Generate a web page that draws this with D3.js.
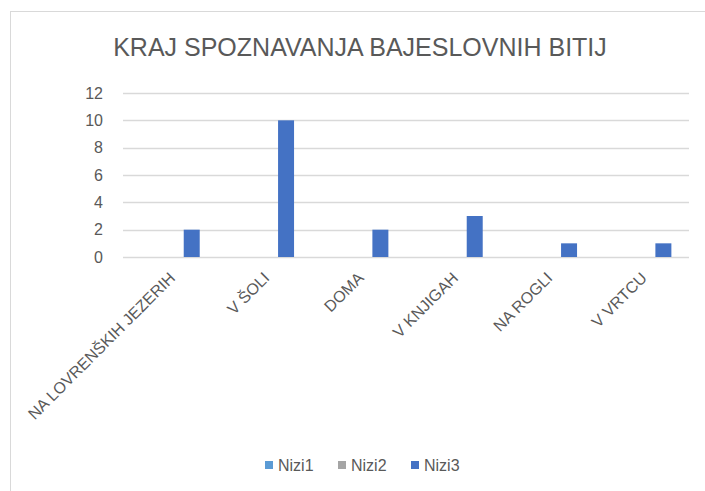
<!DOCTYPE html>
<html>
<head>
<meta charset="utf-8">
<script src="https://cdn.jsdelivr.net/npm/d3@7"></script>
<style>
  body { margin: 0; background: #fff; }
  text { font-family: "Liberation Sans", Arial, sans-serif; }
</style>
</head>
<body>
<div id="chart"></div>
<script>
const categories = ["NA LOVRENŠKIH JEZERIH", "V ŠOLI", "DOMA", "V KNJIGAH", "NA ROGLI", "V VRTCU"];
const seriesNames = ["Nizi1", "Nizi2", "Nizi3"];
const nizi1 = [0, 0, 0, 0, 0, 0];
const nizi2 = [0, 0, 0, 0, 0, 0];
const nizi3 = [2, 10, 2, 3, 1, 1];
const yTicks = [0, 2, 4, 6, 8, 10, 12];
const title = "KRAJ SPOZNAVANJA BAJESLOVNIH BITIJ";

const W = 705, H = 491;
const margin = { top: 93, right: 16, bottom: 234, left: 123 };
const width = W - margin.left - margin.right;
const height = H - margin.top - margin.bottom;

const colors = ["#5B9BD5", "#A5A5A5", "#4472C4"];
const values = [nizi1, nizi2, nizi3];
const textColor = "#595959";

const svg = d3.select("#chart").append("svg")
  .attr("width", W)
  .attr("height", H);

// chart frame
svg.append("rect")
  .attr("x", 10.5).attr("y", 11.5)
  .attr("width", W + 10).attr("height", H + 10)
  .attr("fill", "none")
  .attr("stroke", "#d9d9d9");

svg.append("text")
  .attr("x", 360).attr("y", 56)
  .attr("text-anchor", "middle")
  .style("font-size", "25px")
  .style("fill", textColor)
  .text(title);

const g = svg.append("g")
  .attr("transform", "translate(" + margin.left + "," + margin.top + ")");

const x0 = d3.scaleBand().domain(categories).range([0, width]);
const x1 = d3.scaleBand().domain(seriesNames)
  .range([0, x0.bandwidth()])
  .paddingOuter(1.45)
  .align(0.62);
const y = d3.scaleLinear().domain([0, 12]).range([height, 0]);

// gridlines
g.selectAll(".grid")
  .data(yTicks)
  .enter().append("line")
  .attr("x1", 0).attr("x2", width)
  .attr("y1", d => Math.round(y(d)) + 0.5)
  .attr("y2", d => Math.round(y(d)) + 0.5)
  .attr("stroke", "#d9d9d9")
  .attr("stroke-width", 1.5);

const yAxis = g.append("g")
  .call(d3.axisLeft(y).tickValues(yTicks).tickSize(0).tickPadding(20));
yAxis.select(".domain").remove();
yAxis.selectAll("text")
  .style("font-size", "16px")
  .style("font-family", "Liberation Sans, Arial, sans-serif")
  .style("fill", textColor);

// bars
seriesNames.forEach((s, i) => {
  g.selectAll(".bar-" + s)
    .data(values[i])
    .enter().append("rect")
    .attr("class", "bar-" + s)
    .attr("x", (d, j) => x0(categories[j]) + x1(s))
    .attr("y", d => y(d))
    .attr("width", x1.bandwidth())
    .attr("height", d => height - y(d))
    .attr("fill", colors[i]);
});

// category labels
const xAxis = g.append("g")
  .attr("transform", "translate(0," + height + ")")
  .call(d3.axisBottom(x0).tickSize(0).tickPadding(10));
xAxis.select(".domain").remove();
xAxis.selectAll("text")
  .style("font-size", "16px")
  .style("font-family", "Liberation Sans, Arial, sans-serif")
  .style("fill", textColor)
  .attr("text-anchor", "end")
  .attr("dy", "0.35em")
  .attr("transform", "translate(2,18) rotate(-45)")
  .attr("y", 0).attr("x", 0);

// legend
const legend = svg.append("g").attr("transform", "translate(265,465)");
let lx = 0;
seriesNames.forEach((s, i) => {
  const item = legend.append("g").attr("transform", "translate(" + lx + ",0)");
  item.append("rect")
    .attr("x", 0).attr("y", -4)
    .attr("width", 8).attr("height", 8)
    .attr("fill", colors[i]);
  item.append("text")
    .attr("x", 13).attr("y", 0).attr("dy", "0.35em")
    .style("font-size", "16px")
    .style("fill", textColor)
    .text(s);
  lx += 73;
});
</script>
</body>
</html>
